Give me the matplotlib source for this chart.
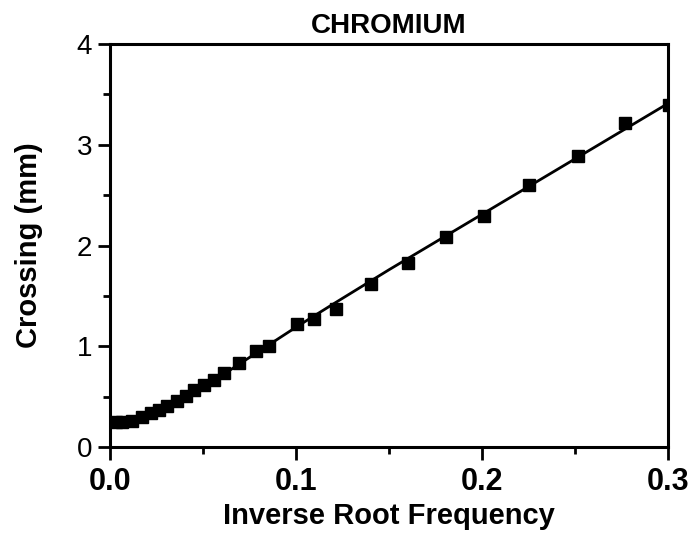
import matplotlib
matplotlib.use("Agg")
import matplotlib.pyplot as plt
from matplotlib.ticker import MultipleLocator, FormatStrFormatter

# Measured points (inverse root frequency, crossing in mm)
x_data = [0.0035, 0.0066, 0.012, 0.0173, 0.0218, 0.0263, 0.0308, 0.0362,
          0.0406, 0.0451, 0.0505, 0.0559, 0.0612, 0.0693, 0.0785, 0.0855,
          0.1007, 0.1097, 0.1213, 0.1402, 0.1603, 0.1805, 0.2008, 0.2254,
          0.2514, 0.277, 0.3005]
y_data = [0.25, 0.25, 0.26, 0.30, 0.34, 0.37, 0.405, 0.455,
          0.505, 0.57, 0.62, 0.67, 0.735, 0.835, 0.955, 1.00,
          1.22, 1.27, 1.37, 1.62, 1.83, 2.08, 2.29, 2.60,
          2.89, 3.22, 3.39]

# Fitted curve
x_fit = [0.0, 0.005, 0.01, 0.015, 0.02, 0.025, 0.03, 0.035, 0.04, 0.05,
         0.06, 0.07, 0.08, 0.09, 0.1, 0.12, 0.15, 0.2, 0.25, 0.3]
y_fit = [0.25, 0.252, 0.262, 0.28, 0.305, 0.34, 0.38, 0.425, 0.475, 0.59,
         0.71, 0.83, 0.95, 1.07, 1.19, 1.42, 1.76, 2.31, 2.86, 3.41]

x_ticks = [0.0, 0.1, 0.2, 0.3]
y_ticks = [0, 1, 2, 3, 4]

plt.rcParams['font.family'] = ['Liberation Sans', 'DejaVu Sans']

fig = plt.figure(figsize=(6.96, 5.42), dpi=100)
ax = fig.add_axes([0.158, 0.175, 0.802, 0.744])

ax.plot(x_fit, y_fit, color='black', linewidth=2.0, zorder=2)
ax.plot(x_data, y_data, linestyle='none', marker='s', markersize=9,
        color='black', zorder=3)

ax.set_xlim(0, 0.3)
ax.set_ylim(0, 4)
ax.set_xticks(x_ticks)
ax.set_yticks(y_ticks)
ax.xaxis.set_minor_locator(MultipleLocator(0.05))
ax.yaxis.set_minor_locator(MultipleLocator(0.5))
ax.xaxis.set_major_formatter(FormatStrFormatter('%.1f'))

for s in ax.spines.values():
    s.set_linewidth(2.2)

ax.tick_params(axis='both', which='major', direction='out', length=9, width=2)
ax.tick_params(axis='both', which='minor', direction='out', length=5, width=2)
ax.tick_params(axis='x', which='major', labelsize=22, pad=5)
ax.tick_params(axis='y', which='major', labelsize=20, pad=4)
for lab in ax.get_xticklabels():
    lab.set_fontweight('bold')

ax.set_title('CHROMIUM', fontsize=20, fontweight='bold', pad=8)
ax.set_xlabel('Inverse Root Frequency', fontsize=21, fontweight='bold', labelpad=4)
ax.set_ylabel('Crossing (mm)', fontsize=21, fontweight='bold', labelpad=24)

fig.savefig('out.png', dpi=100)
